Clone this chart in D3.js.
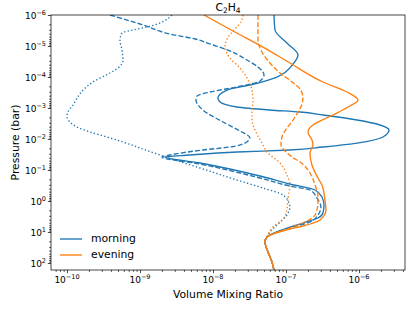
<!DOCTYPE html>
<html>
<head>
<meta charset="utf-8">
<script src="https://cdn.jsdelivr.net/npm/d3@7"></script>
<style>
  body { margin: 0; background: #fff; }
  svg { font-family: "DejaVu Sans", sans-serif; }
</style>
</head>
<body>
<div id="chart"></div>
<script>
// C2H4 profiles: pressure (bar) vs volume mixing ratio
const morningSolidP = [1e-6, 3.05e-6, 8.0e-6, 1.95e-5, 3.81e-5, 1.0e-4, 1.81e-4, 2.63e-4, 4.75e-4, 6.40e-4, 9.29e-4, 1.16e-3, 1.35e-3, 1.68e-3, 2.44e-3, 3.53e-3, 5.13e-3, 8.61e-3, 1.35e-2, 1.81e-2, 2.26e-2, 2.63e-2, 3.28e-2, 3.81e-2, 5.94e-2, 0.156, 0.283, 0.442, 0.743, 1.35, 2.44, 3.53, 5.13, 6.90];
const morningSolidVmr = [6.85e-8, 7.07e-8, 1.03e-7, 1.46e-7, 1.25e-7, 7.53e-8, 3.21e-8, 1.56e-8, 1.17e-8, 1.25e-8, 2.13e-8, 6.04e-8, 1.56e-7, 3.21e-7, 9.4e-7, 1.94e-6, 2.58e-6, 2.13e-6, 9.4e-7, 3.21e-7, 1.13e-7, 2.13e-8, 4.84e-9, 2.2e-9, 6.64e-9, 4.4e-8, 1.13e-7, 2.5e-7, 3.11e-7, 3.32e-7, 3.21e-7, 2.74e-7, 1.71e-7, 1.13e-7];

const morningDashedP = [1e-6, 1.95e-6, 4.10e-6, 5.94e-6, 9.29e-6, 1.35e-5, 2.83e-5, 4.75e-5, 8.61e-5, 1.35e-4, 2.10e-4, 3.05e-4, 4.10e-4, 5.52e-4, 1.16e-3, 2.83e-3, 5.52e-3, 9.29e-3, 1.35e-2, 1.81e-2, 2.26e-2, 3.28e-2, 3.81e-2, 6.40e-2, 0.181, 0.328, 0.442, 0.80, 1.56, 2.83, 4.75, 7.43];
const morningDashedVmr = [3.88e-10, 1.0e-9, 2.58e-9, 5.67e-9, 1.0e-8, 1.6e-8, 2.92e-8, 4.13e-8, 5.0e-8, 4.4e-8, 2.13e-8, 9.1e-9, 6.04e-9, 5.85e-9, 7.29e-9, 1.37e-8, 2.34e-8, 3.21e-8, 2.74e-8, 1.71e-8, 7.29e-9, 2.58e-9, 2.0e-9, 6.64e-9, 4.4e-8, 1.13e-7, 2.13e-7, 2.66e-7, 3.01e-7, 2.74e-7, 2.13e-7, 1.13e-7];

const morningDottedP = [1e-6, 2.44e-6, 3.05e-6, 3.81e-6, 6.40e-6, 1.35e-5, 2.83e-5, 5.13e-5, 7.43e-5, 1.45e-4, 2.63e-4, 4.42e-4, 8.0e-4, 1.35e-3, 1.95e-3, 2.83e-3, 4.10e-3, 5.94e-3, 8.61e-3, 1.25e-2, 1.95e-2, 3.28e-2, 4.42e-2, 8.61e-2, 0.226, 0.381, 0.640, 1.16, 1.56, 2.83, 5.94, 10];
const morningDottedVmr = [2.74e-9, 1.25e-9, 8.02e-10, 5.67e-10, 5.32e-10, 5.67e-10, 5.85e-10, 5.0e-10, 3.88e-10, 2.27e-10, 1.66e-10, 1.41e-10, 1.21e-10, 1.03e-10, 1.0e-10, 1.1e-10, 1.37e-10, 2.07e-10, 3.53e-10, 5.85e-10, 1.0e-9, 1.88e-9, 2.74e-9, 6.64e-9, 2.34e-8, 4.84e-8, 9.1e-8, 1.1e-7, 1.13e-7, 1.03e-7, 7.53e-8, 6.04e-8];

const eveningSolidP = [1e-6, 3.28e-6, 1.08e-5, 3.53e-5, 1.45e-4, 3.05e-4, 5.52e-4, 9.29e-4, 1.68e-3, 3.53e-3, 5.94e-3, 1.08e-2, 1.56e-2, 2.83e-2, 6.90e-2, 0.181, 0.305, 0.929, 1.95, 4.10, 6.40, 8.0];
const eveningSolidVmr = [7.53e-9, 1.88e-8, 4.84e-8, 1.13e-7, 3.21e-7, 6.85e-7, 9.69e-7, 7.07e-7, 4.4e-7, 2.34e-7, 2.0e-7, 2.27e-7, 2.34e-7, 2.13e-7, 2.27e-7, 2.74e-7, 3.11e-7, 3.42e-7, 3.53e-7, 2.92e-7, 1.71e-7, 1.13e-7];

const eveningDashedP = [1e-6, 6.40e-6, 1.56e-5, 3.53e-5, 7.43e-5, 1.45e-4, 2.44e-4, 4.75e-4, 7.43e-4, 1.35e-3, 2.44e-3, 4.42e-3, 8.61e-3, 1.56e-2, 2.44e-2, 3.81e-2, 5.52e-2, 0.125, 0.305, 0.640, 1.16, 2.83, 4.75, 7.43];
const eveningDashedVmr = [4.13e-8, 4.13e-8, 4.69e-8, 6.04e-8, 8.28e-8, 1.21e-7, 1.56e-7, 1.71e-7, 1.66e-7, 1.46e-7, 1.25e-7, 1.03e-7, 8.82e-8, 8.55e-8, 9.69e-8, 1.21e-7, 1.56e-7, 2.13e-7, 2.5e-7, 2.74e-7, 2.74e-7, 2.5e-7, 1.82e-7, 1.13e-7];

const eveningDottedP = [1e-6, 1.68e-6, 3.28e-6, 5.94e-6, 1.08e-5, 2.44e-5, 5.13e-5, 1.08e-4, 2.63e-4, 5.52e-4, 1.16e-3, 2.44e-3, 5.13e-3, 1.35e-2, 2.63e-2, 5.94e-2, 0.145, 0.305, 0.929, 1.95, 4.10, 6.90, 12.5];
const eveningDottedVmr = [2.58e-8, 2.42e-8, 1.88e-8, 1.56e-8, 1.46e-8, 1.71e-8, 2.34e-8, 2.92e-8, 3.42e-8, 3.53e-8, 3.42e-8, 3.42e-8, 3.76e-8, 4.69e-8, 5.5e-8, 8.28e-8, 1.03e-7, 1.13e-7, 1.06e-7, 1.03e-7, 8.82e-8, 6.64e-8, 5.67e-8];

// deep atmosphere: all six profiles sit on top of each other
const deepP = [14.5, 21, 44, 93, 168];
const deepVmr = [5.5e-8, 5.15e-8, 5.67e-8, 6.43e-8, 6.85e-8];

const legendLabels = ["morning", "evening"];
const xTickExps = [-10, -9, -8, -7, -6];
const yTickExps = [-6, -5, -4, -3, -2, -1, 0, 1, 2];
const xDomain = [6.04e-11, 4.27e-6];
const yDomain = [1e-6, 168];

// Plot constants
const W = 415, H = 311;
const MARGIN = { LEFT: 51, RIGHT: 10, TOP: 15, BOTTOM: 41 };
const BLUE = "#1f77b4", ORANGE = "#ff7f0e";
const LW = 1.35;
const DASH = "5,2.16", DOT = "1.35,2.23";

const svg = d3.select("#chart").append("svg")
  .attr("width", W)
  .attr("height", H);

const x = d3.scaleLog().domain(xDomain).range([MARGIN.LEFT, W - MARGIN.RIGHT]);
const y = d3.scaleLog().domain(yDomain).range([MARGIN.TOP, H - MARGIN.BOTTOM]);

function minorTicks(domain) {
  const out = [];
  const lo = Math.floor(Math.log10(domain[0])), hi = Math.ceil(Math.log10(domain[1]));
  for (let e = lo; e < hi; e++) {
    for (let k = 2; k <= 9; k++) {
      const v = k * Math.pow(10, e);
      if (v >= domain[0] && v <= domain[1]) out.push(v);
    }
  }
  return out;
}

// "10" with superscript exponent, mathtext style
function powerLabel(sel, exp) {
  sel.append("tspan").text("10");
  sel.append("tspan")
    .attr("dy", -4.2)
    .style("font-size", "6.5px")
    .text(exp < 0 ? "\u2212" + (-exp) : String(exp));
}

// Axes
const xAxisG = svg.append("g").attr("transform", `translate(0,${H - MARGIN.BOTTOM})`);
xAxisG.append("g").call(d3.axisBottom(x).tickValues(minorTicks(xDomain)).tickSize(1.8).tickFormat(""));
xAxisG.append("g").call(d3.axisBottom(x).tickValues(xTickExps.map(e => Math.pow(10, e))).tickSize(3.15).tickFormat(""));

const yAxisG = svg.append("g").attr("transform", `translate(${MARGIN.LEFT},0)`);
yAxisG.append("g").call(d3.axisLeft(y).tickValues(minorTicks(yDomain)).tickSize(1.8).tickFormat(""));
yAxisG.append("g").call(d3.axisLeft(y).tickValues(yTickExps.map(e => Math.pow(10, e))).tickSize(3.15).tickFormat(""));

svg.selectAll(".domain").remove();
svg.selectAll(".tick line").attr("stroke", "#000").attr("stroke-width", 0.72);

xTickExps.forEach(e => {
  const t = svg.append("text")
    .attr("x", x(Math.pow(10, e)))
    .attr("y", H - MARGIN.BOTTOM + 13)
    .attr("text-anchor", "middle")
    .style("font-size", "9px");
  powerLabel(t, e);
});

yTickExps.forEach(e => {
  const t = svg.append("text")
    .attr("x", MARGIN.LEFT - 5)
    .attr("y", y(Math.pow(10, e)) + 4.2)
    .attr("text-anchor", "end")
    .style("font-size", "9px");
  powerLabel(t, e);
});

// Profiles
svg.append("clipPath").attr("id", "plotClip")
  .append("rect")
  .attr("x", MARGIN.LEFT).attr("y", MARGIN.TOP)
  .attr("width", W - MARGIN.LEFT - MARGIN.RIGHT)
  .attr("height", H - MARGIN.TOP - MARGIN.BOTTOM);

const series = [
  { p: morningSolidP, v: morningSolidVmr, color: BLUE, dash: null },
  { p: morningDashedP, v: morningDashedVmr, color: BLUE, dash: DASH },
  { p: morningDottedP, v: morningDottedVmr, color: BLUE, dash: DOT },
  { p: eveningSolidP, v: eveningSolidVmr, color: ORANGE, dash: null },
  { p: eveningDashedP, v: eveningDashedVmr, color: ORANGE, dash: DASH },
  { p: eveningDottedP, v: eveningDottedVmr, color: ORANGE, dash: DOT }
];

const line = d3.line()
  .x(d => x(d[1]))
  .y(d => y(d[0]))
  .curve(d3.curveMonotoneY);

svg.append("g")
  .attr("clip-path", "url(#plotClip)")
  .selectAll("path")
  .data(series)
  .enter().append("path")
  .attr("fill", "none")
  .attr("stroke", d => d.color)
  .attr("stroke-width", LW)
  .attr("stroke-dasharray", d => d.dash)
  .attr("d", d => line(d.p.concat(deepP).map((p, i) => [p, d.v.concat(deepVmr)[i]])));

// Frame
svg.append("rect")
  .attr("x", MARGIN.LEFT).attr("y", MARGIN.TOP)
  .attr("width", W - MARGIN.LEFT - MARGIN.RIGHT)
  .attr("height", H - MARGIN.TOP - MARGIN.BOTTOM)
  .attr("fill", "none")
  .attr("stroke", "#000")
  .attr("stroke-width", 0.72);

// Title and axis labels
const title = svg.append("text")
  .attr("x", (MARGIN.LEFT + W - MARGIN.RIGHT) / 2)
  .attr("y", 11)
  .attr("text-anchor", "middle")
  .style("font-size", "10.8px");
title.append("tspan").text("C");
title.append("tspan").attr("dy", 2).style("font-size", "7.5px").text("2");
title.append("tspan").attr("dy", -2).text("H");
title.append("tspan").attr("dy", 2).style("font-size", "7.5px").text("4");

svg.append("text")
  .attr("x", (MARGIN.LEFT + W - MARGIN.RIGHT) / 2)
  .attr("y", 298)
  .attr("text-anchor", "middle")
  .style("font-size", "10.8px")
  .text("Volume Mixing Ratio");

svg.append("text")
  .attr("text-anchor", "middle")
  .attr("transform", `translate(19,${(MARGIN.TOP + H - MARGIN.BOTTOM) / 2})rotate(-90)`)
  .style("font-size", "10.8px")
  .text("Pressure (bar)");

// Legend (no frame)
const legend = svg.append("g");
[BLUE, ORANGE].forEach((c, i) => {
  const ly = 239 + i * 16;
  legend.append("line")
    .attr("x1", 60).attr("x2", 82)
    .attr("y1", ly).attr("y2", ly)
    .attr("stroke", c)
    .attr("stroke-width", LW);
  legend.append("text")
    .attr("x", 91)
    .attr("y", ly + 3.3)
    .style("font-size", "10.8px")
    .text(legendLabels[i]);
});
</script>
</body>
</html>
